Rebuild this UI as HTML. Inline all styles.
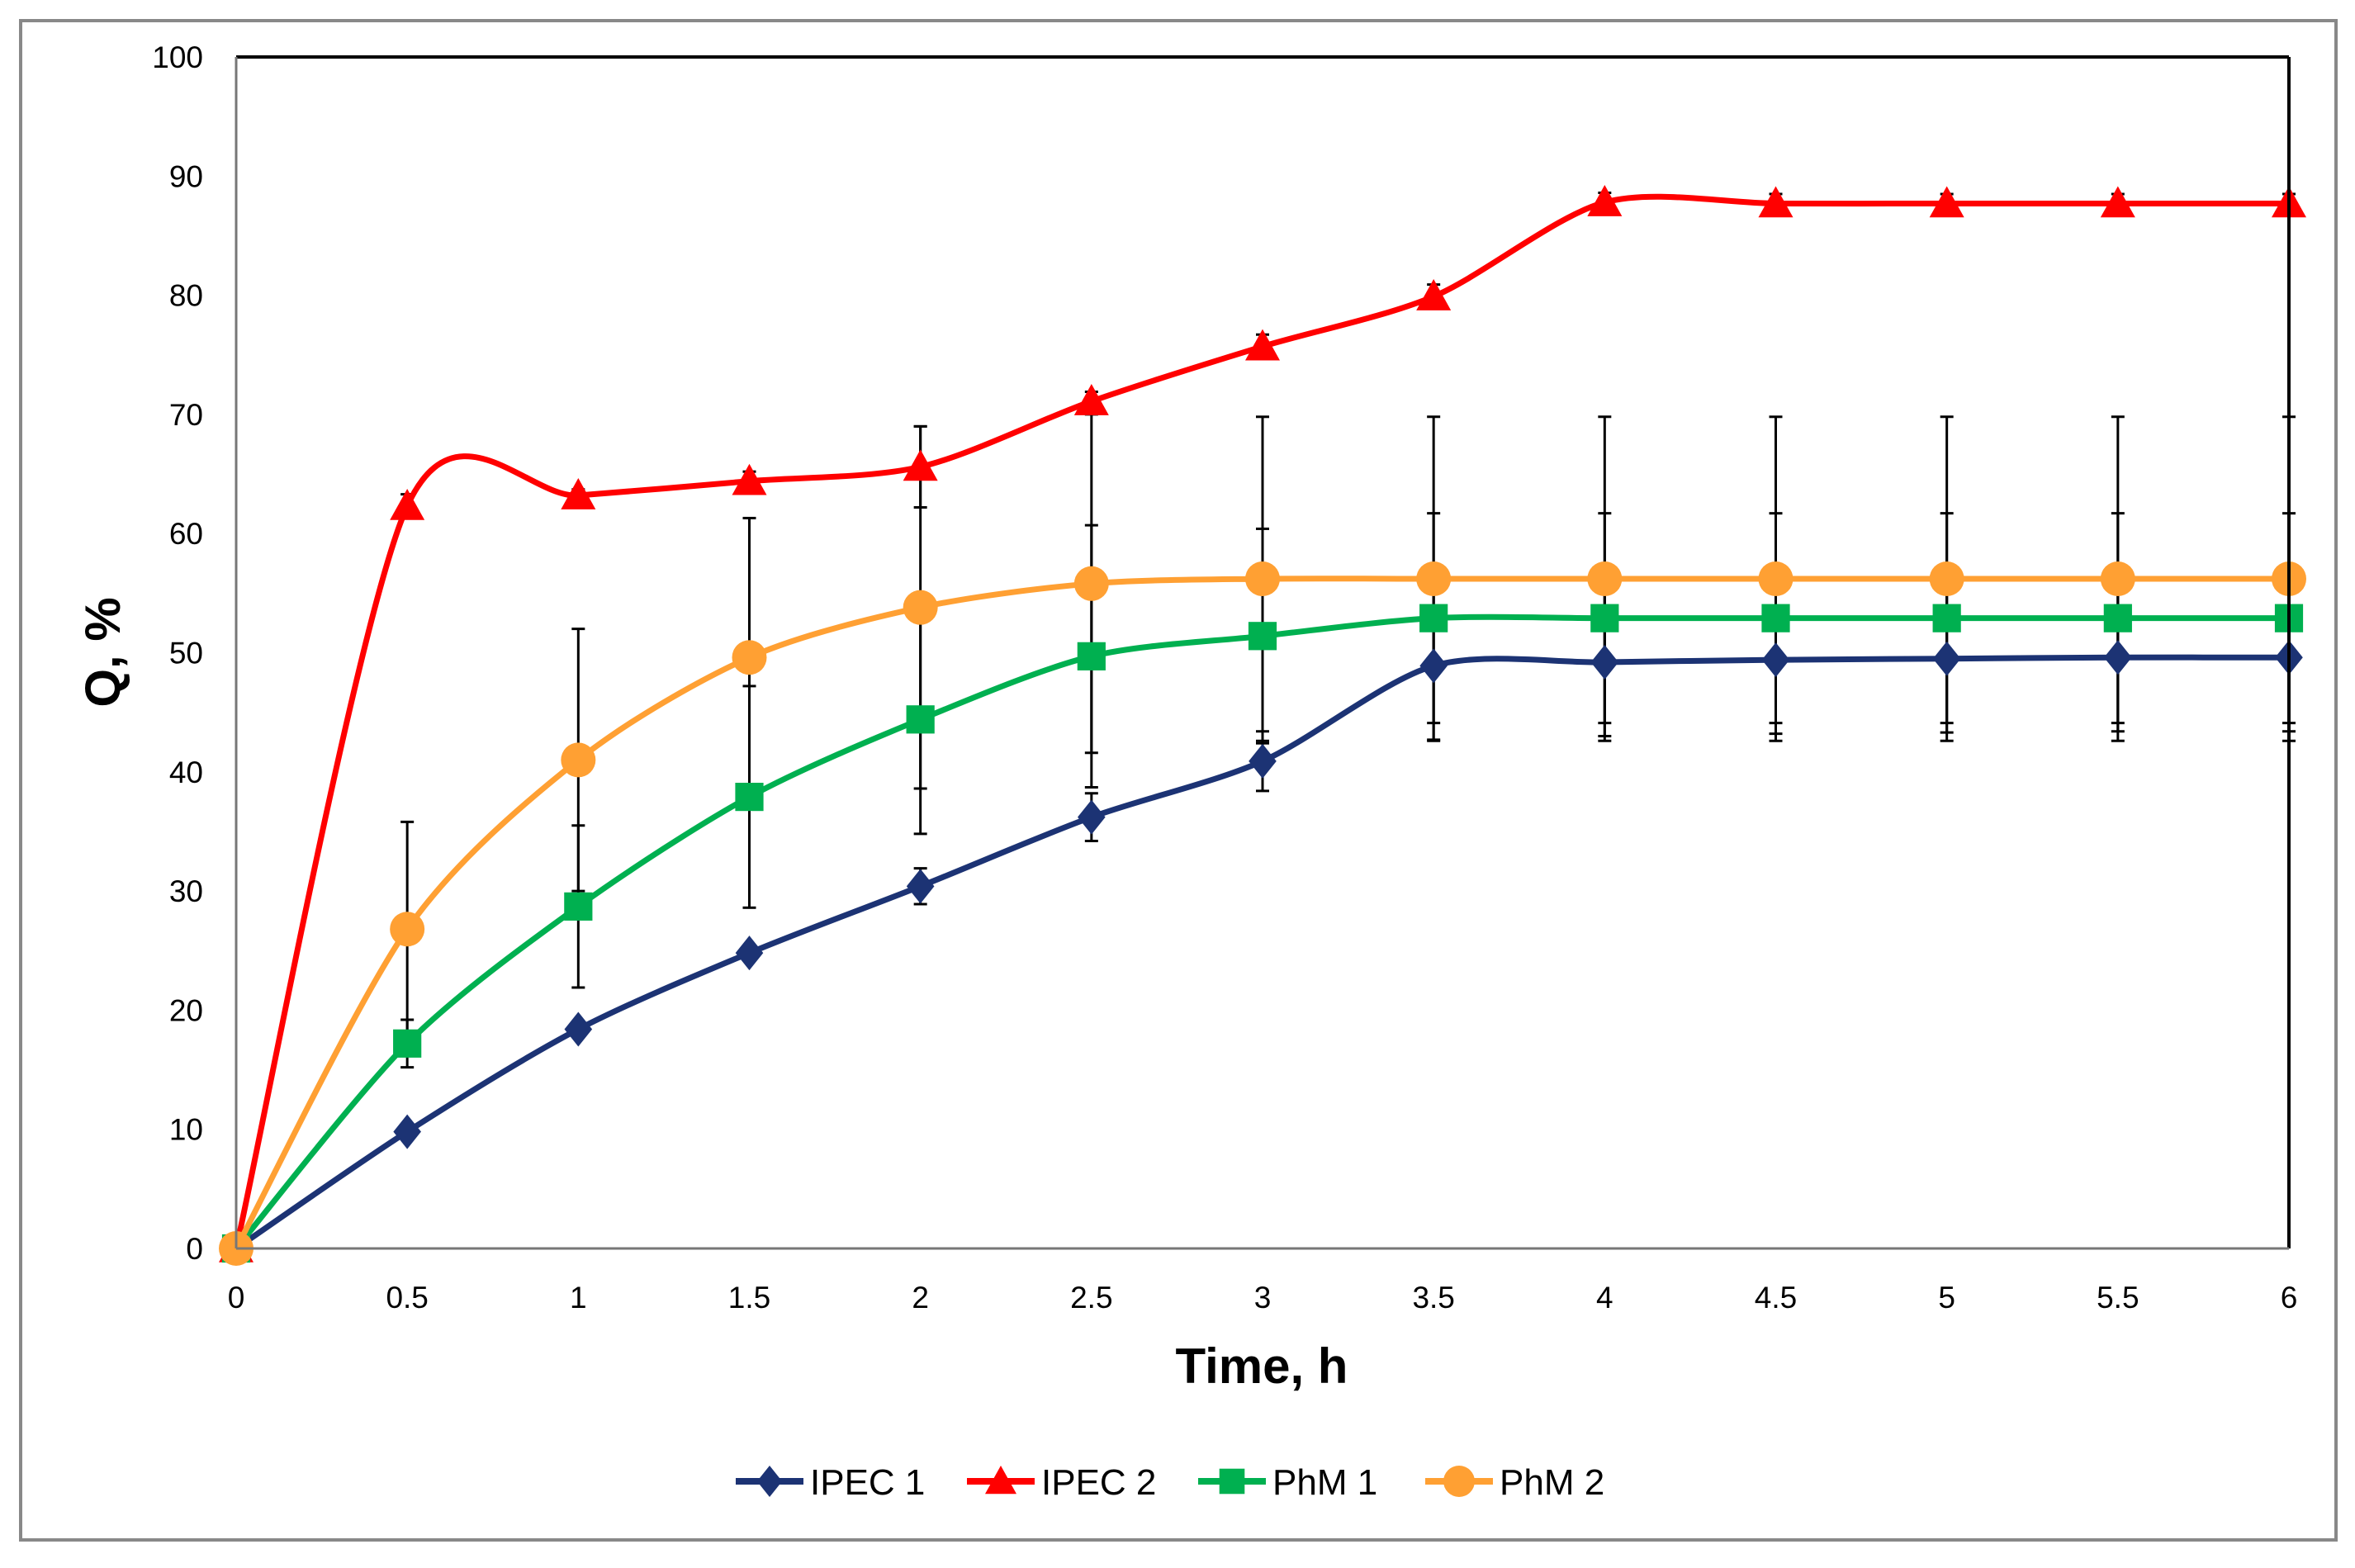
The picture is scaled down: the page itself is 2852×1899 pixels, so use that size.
<!DOCTYPE html>
<html><head><meta charset="utf-8">
<style>
html,body{margin:0;padding:0;background:#fff;}
svg{display:block;font-family:"Liberation Sans",Calibri,sans-serif;}
</style></head>
<body>
<svg id="chart" width="2852" height="1899" viewBox="0 0 2852 1899" xmlns="http://www.w3.org/2000/svg">
<rect x="25" y="25" width="2804" height="1840" fill="#fff" stroke="#888" stroke-width="4"/>
<g id="grid"></g>
<g id="errs"></g>
<g id="lines"></g>
<g id="marks"></g>
<g id="axes"></g>
<text x="1528" y="1675" font-size="60" font-weight="bold" text-anchor="middle">Time, h</text>
<text transform="translate(145,790) rotate(-90)" font-size="60" font-weight="bold" text-anchor="middle">Q, %</text>
<g id="legend"></g>
</svg>
<script>
const times = [0,0.5,1,1.5,2,2.5,3,3.5,4,4.5,5,5.5,6];
const ipec1 = [0,9.8,18.4,24.8,30.4,36.2,40.9,48.9,49.2,49.4,49.5,49.6,49.6];
const ipec2 = [0,62.3,63.2,64.4,65.6,71.1,75.7,79.9,87.8,87.7,87.7,87.7,87.7];
const phm1 = [0,17.2,28.7,37.9,44.4,49.7,51.4,52.9,52.9,52.9,52.9,52.9,52.9];
const phm2 = [0,26.8,41.0,49.6,53.8,55.8,56.2,56.2,56.2,56.2,56.2,56.2,56.2];
const ipec1Err = [0,0,0,0,1.5,2,2.5,6.2,6.2,6.2,6.2,6.2,6.2];
const ipec2Err = [0,1,0.5,0.8,3.4,0.8,1,1,0.8,0.8,0.8,0.8,0.8];
const phm1Err = [0,2,6.8,9.3,9.6,11,9,8.8,8.8,8.8,8.8,8.8,8.8];
const phm2Err = [0,9,11,11.7,15.2,14.2,13.6,13.6,13.6,13.6,13.6,13.6,13.6];
const yTicks = [0,10,20,30,40,50,60,70,80,90,100];
const xTicks = ["0","0.5","1","1.5","2","2.5","3","3.5","4","4.5","5","5.5","6"];

const L=286,R=2772,T=69,B=1512;
const xs = t => L + (t/6)*(R-L);
const ys = v => B - (v/100)*(B-T);
const NS="http://www.w3.org/2000/svg";
function mk(tag, attrs, parent){const e=document.createElementNS(NS,tag);for(const k in attrs)e.setAttribute(k,attrs[k]);parent.appendChild(e);return e;}

const axes=document.getElementById('axes');
let e;
e=mk('line',{x1:L,y1:T,x2:R,y2:T,stroke:'#000','stroke-width':4},axes);


e=mk('line',{x1:R,y1:T,x2:R,y2:B,stroke:'#000','stroke-width':4},axes);


e=mk('line',{x1:L,y1:T,x2:L,y2:B,stroke:'#777','stroke-width':3},axes);


e=mk('line',{x1:L,y1:B,x2:R,y2:B,stroke:'#777','stroke-width':3},axes);


yTicks.forEach(v=>{
  const t=mk('text',{x:L-40,y:ys(v)+13,'font-size':37,'text-anchor':'end'},axes);
  t.textContent=v;
  
  
});
xTicks.forEach((s,i)=>{
  const t=mk('text',{x:xs(times[i]),y:B+72,'font-size':37,'text-anchor':'middle'},axes);
  t.textContent=s;
  
  
});

const series=[
 {name:'IPEC 1',vals:ipec1,err:ipec1Err,color:'#1c3374',shape:'diamond'},
 {name:'IPEC 2',vals:ipec2,err:ipec2Err,color:'#ff0000',shape:'triangle'},
 {name:'PhM 1',vals:phm1,err:phm1Err,color:'#00b050',shape:'square'},
 {name:'PhM 2',vals:phm2,err:phm2Err,color:'#ffa033',shape:'circle'}
];

function smoothPath(pts){
  let d=`M${pts[0][0]},${pts[0][1]}`;
  for(let i=0;i<pts.length-1;i++){
    const p0=pts[i-1]||pts[i],p1=pts[i],p2=pts[i+1],p3=pts[i+2]||p2;
    const s=1/7;
    const c1=[p1[0]+(p2[0]-p0[0])*s,p1[1]+(p2[1]-p0[1])*s];
    const c2=[p2[0]-(p3[0]-p1[0])*s,p2[1]-(p3[1]-p1[1])*s];
    d+=` C${c1[0]},${c1[1]} ${c2[0]},${c2[1]} ${p2[0]},${p2[1]}`;
  }
  return d;
}
function marker(shape,x,y,color,parent,sz){
  let m;
  if(shape==='diamond') m=mk('polygon',{points:`${x},${y-sz} ${x+sz*0.8},${y} ${x},${y+sz} ${x-sz*0.8},${y}`,fill:color},parent);
  else if(shape==='triangle') m=mk('polygon',{points:`${x},${y-sz} ${x+sz},${y+sz*0.8} ${x-sz},${y+sz*0.8}`,fill:color},parent);
  else if(shape==='square') m=mk('rect',{x:x-sz*0.9,y:y-sz*0.9,width:sz*1.8,height:sz*1.8,fill:color},parent);
  else m=mk('circle',{cx:x,cy:y,r:sz,fill:color},parent);
  return m;
}
const errs=document.getElementById('errs'),lines=document.getElementById('lines'),marks=document.getElementById('marks');
series.forEach(s=>{
  s.vals.forEach((v,i)=>{
    if(!s.err[i])return;
    const x=xs(times[i]),y1=ys(v+s.err[i]),y2=ys(v-s.err[i]);
    const g=mk('g',{stroke:'#000','stroke-width':3},errs);
    
    
    mk('line',{x1:x,y1:y1,x2:x,y2:y2},g);
    mk('line',{x1:x-8,y1:y1,x2:x+8,y2:y1},g);
    mk('line',{x1:x-8,y1:y2,x2:x+8,y2:y2},g);
  });
});
series.forEach(s=>{
  const pts=s.vals.map((v,i)=>[xs(times[i]),ys(v)]);
  const p=mk('path',{d:smoothPath(pts),fill:'none',stroke:s.color,'stroke-width':7},lines);
  
  
  s.vals.forEach((v,i)=>{
    const m=marker(s.shape,xs(times[i]),ys(v),s.color,marks,s.shape==='square'?19:21);
    
    
  });
});
const leg=document.getElementById('legend');
const legX=[891,1171,1451,1726];
series.forEach((s,i)=>{
  const g=mk('g',{},leg);
  
  
  const x=legX[i],y=1794;
  mk('line',{x1:x,y1:y,x2:x+82,y2:y,stroke:s.color,'stroke-width':8},g);
  marker(s.shape,x+41,y,s.color,g,s.shape==='square'?17:19);
  const t=mk('text',{x:x+90,y:y+16,'font-size':44},g);
  t.textContent=s.name;
});
</script>
</body></html>
